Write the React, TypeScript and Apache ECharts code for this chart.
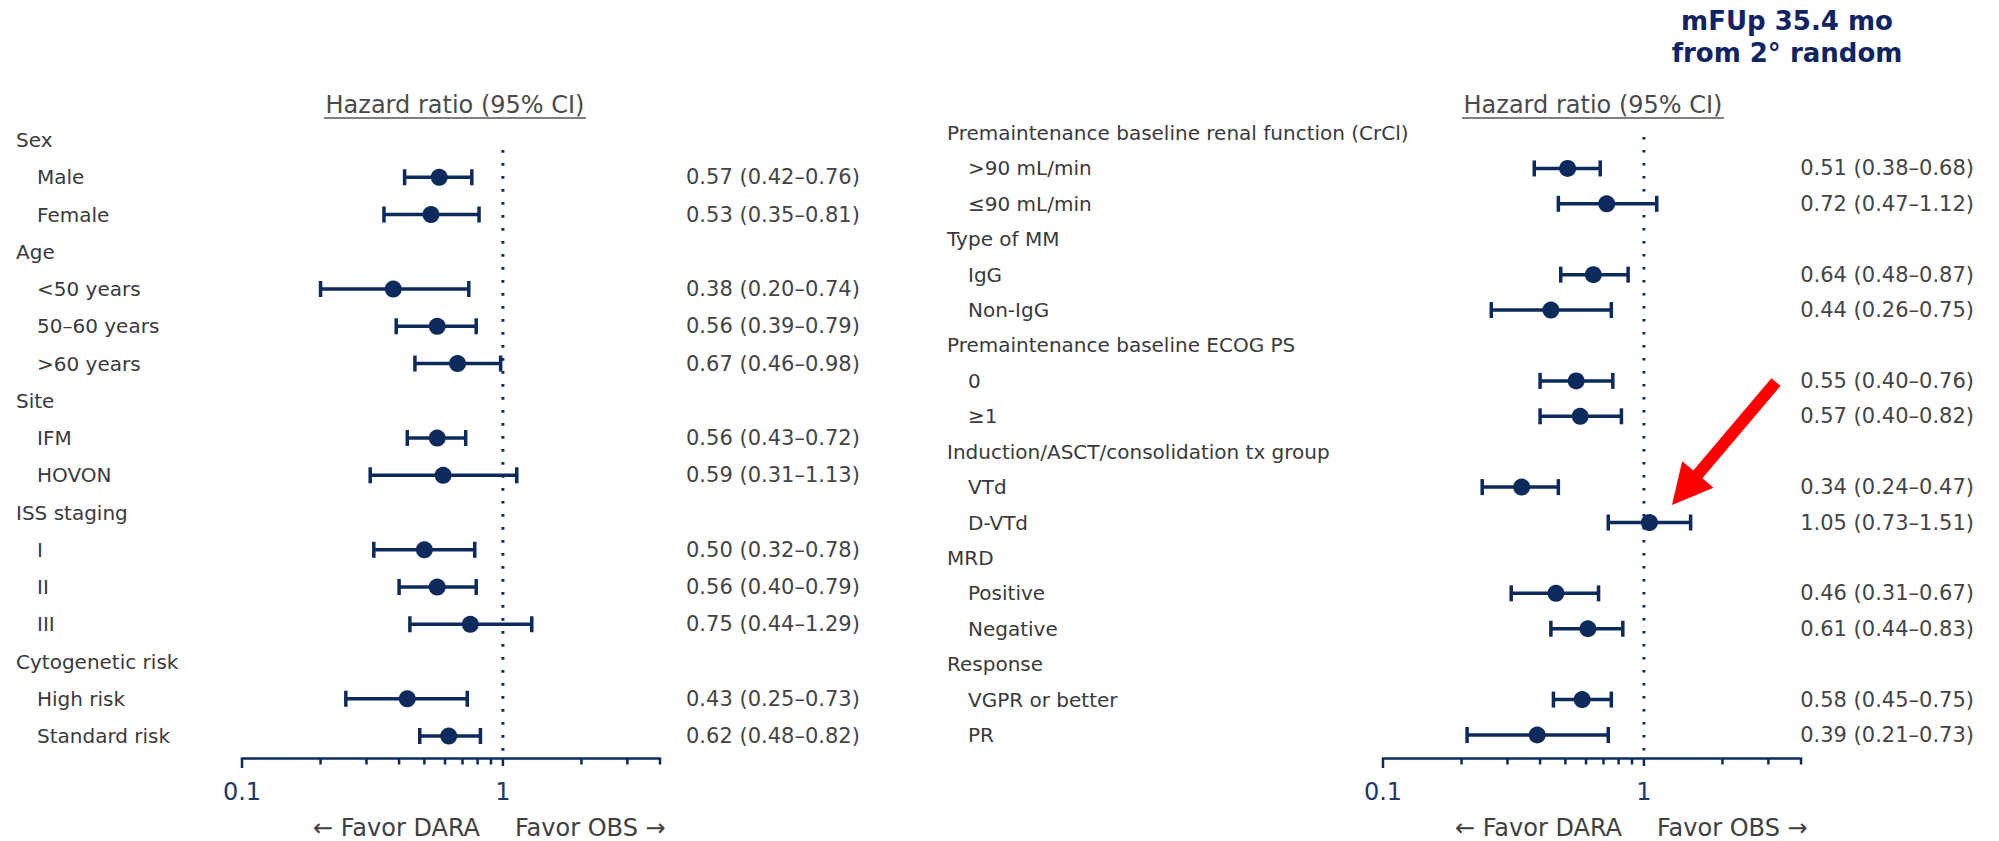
import React, { useEffect, useRef } from 'react';
import * as echarts from 'echarts';

// ---------- DATA ----------
const leftLabels = ['Sex', 'Male', 'Female', 'Age', '<50 years', '50–60 years', '>60 years', 'Site', 'IFM', 'HOVON', 'ISS staging', 'I', 'II', 'III', 'Cytogenetic risk', 'High risk', 'Standard risk'];
const leftHR = [null, 0.57, 0.53, null, 0.38, 0.56, 0.67, null, 0.56, 0.59, null, 0.50, 0.56, 0.75, null, 0.43, 0.62];
const leftLow = [null, 0.42, 0.35, null, 0.20, 0.39, 0.46, null, 0.43, 0.31, null, 0.32, 0.40, 0.44, null, 0.25, 0.48];
const leftHigh = [null, 0.76, 0.81, null, 0.74, 0.79, 0.98, null, 0.72, 1.13, null, 0.78, 0.79, 1.29, null, 0.73, 0.82];

const rightLabels = ['Premaintenance baseline renal function (CrCl)', '>90 mL/min', '≤90 mL/min', 'Type of MM', 'IgG', 'Non-IgG', 'Premaintenance baseline ECOG PS', '0', '≥1', 'Induction/ASCT/consolidation tx group', 'VTd', 'D-VTd', 'MRD', 'Positive', 'Negative', 'Response', 'VGPR or better', 'PR'];
const rightHR = [null, 0.51, 0.72, null, 0.64, 0.44, null, 0.55, 0.57, null, 0.34, 1.05, null, 0.46, 0.61, null, 0.58, 0.39];
const rightLow = [null, 0.38, 0.47, null, 0.48, 0.26, null, 0.40, 0.40, null, 0.24, 0.73, null, 0.31, 0.44, null, 0.45, 0.21];
const rightHigh = [null, 0.68, 1.12, null, 0.87, 0.75, null, 0.76, 0.82, null, 0.47, 1.51, null, 0.67, 0.83, null, 0.75, 0.73];

const tickValues = [0.1, 0.2, 0.3, 0.4, 0.5, 0.6, 0.7, 0.8, 0.9, 1, 2, 3, 4];
const axisLabelValues = [0.1, 1];
const axisMin = 0.1;
const axisMax = 4;
const refLine = 1;

const headerText = 'Hazard ratio (95% CI)';
const favorLeft = '← Favor DARA';
const favorRight = 'Favor OBS →';
const followUp = ['mFUp 35.4 mo', 'from 2° random'];

// ---------- STYLE ----------
const NAVY = '#0d2a5c';
const TEXT = '#3a3a3a';
const FONT = "'DejaVu Sans', Verdana, sans-serif";

function fmt(h: number | null, l: number | null, u: number | null) {
  if (h == null || l == null || u == null) return '';
  return `${h.toFixed(2)} (${l.toFixed(2)}–${u.toFixed(2)})`;
}

function buildPanel(
  gi: number,
  labels: string[],
  hr: (number | null)[],
  lo: (number | null)[],
  hi: (number | null)[],
  layout: { left: number; top: number; width: number; height: number; axisOffset: number; labelMargin: number; valueAlign: string; valueMargin: number; lineTopGap: number }
) {
  const values = labels.map((_, i) => fmt(hr[i], lo[i], hi[i]));
  const grid = { left: layout.left, top: layout.top, width: layout.width, height: layout.height };
  const xAxis = {
    gridIndex: gi,
    type: 'log',
    logBase: 10,
    min: axisMin,
    max: axisMax,
    offset: layout.axisOffset,
    axisLine: { show: true, lineStyle: { color: NAVY, width: 2.5 } },
    axisTick: { show: false },
    splitLine: { show: false },
    minorTick: { show: false },
    axisLabel: {
      show: true,
      margin: 22,
      fontSize: 24,
      fontFamily: FONT,
      color: '#1f3864',
      formatter: (v: number) => {
        const hit = axisLabelValues.find((a) => Math.abs(a - v) < 1e-6);
        return hit == null ? '' : String(hit);
      },
    },
  };
  const yLabels = {
    gridIndex: gi,
    type: 'category',
    data: labels,
    inverse: true,
    position: 'left',
    axisLine: { show: false },
    axisTick: { show: false },
    splitLine: { show: false },
    axisLabel: {
      interval: 0,
      align: 'left',
      margin: layout.labelMargin,
      fontSize: 20,
      fontFamily: FONT,
      color: TEXT,
      formatter: (v: string, i: number) => (hr[i] == null ? `{h|${v}}` : `{s|${v}}`),
      rich: {
        h: { fontSize: 20, fontFamily: FONT, color: TEXT },
        s: { fontSize: 20, fontFamily: FONT, color: TEXT, padding: [0, 0, 0, 21] },
      },
    },
  };
  const yValues = {
    gridIndex: gi,
    type: 'category',
    data: labels,
    inverse: true,
    position: 'right',
    axisLine: { show: false },
    axisTick: { show: false },
    splitLine: { show: false },
    axisLabel: {
      interval: 0,
      align: layout.valueAlign,
      margin: layout.valueMargin,
      fontSize: 21,
      fontFamily: FONT,
      color: '#444444',
      formatter: (_v: string, i: number) => values[i],
    },
  };
  const yIdx = gi * 2;
  const rows: number[] = [];
  hr.forEach((h, i) => { if (h != null) rows.push(i); });

  const series = [
    {
      type: 'custom',
      xAxisIndex: gi,
      yAxisIndex: yIdx,
      silent: true,
      z: 1,
      data: [[refLine, 0]],
      encode: { x: 0, y: 1 },
      renderItem: (params: any, api: any) => {
        const p = api.coord([api.value(0), api.value(1)]);
        const cs = params.coordSys;
        return {
          type: 'line',
          shape: { x1: p[0], y1: p[1] + layout.lineTopGap, x2: p[0], y2: cs.y + cs.height + layout.axisOffset - 3 },
          style: { stroke: NAVY, lineWidth: 3, lineDash: [2.6, 10.4] },
        };
      },
    },
    {
      type: 'custom',
      xAxisIndex: gi,
      yAxisIndex: yIdx,
      silent: true,
      z: 2,
      data: tickValues.map((v) => [v, 0]),
      encode: { x: 0, y: 1 },
      renderItem: (params: any, api: any) => {
        const v = api.value(0);
        const p = api.coord([v, 0]);
        const cs = params.coordSys;
        const y0 = cs.y + cs.height + layout.axisOffset;
        const len = Math.abs(v - 0.1) < 1e-6 ? 10 : Math.abs(v - 1) < 1e-6 ? 8 : 6.5;
        return {
          type: 'line',
          shape: { x1: p[0], y1: y0, x2: p[0], y2: y0 + len },
          style: { stroke: NAVY, lineWidth: 2.5 },
        };
      },
    },
    {
      type: 'custom',
      xAxisIndex: gi,
      yAxisIndex: yIdx,
      silent: true,
      z: 3,
      data: rows.map((i) => [lo[i], hi[i], i]),
      encode: { x: [0, 1], y: 2 },
      renderItem: (_params: any, api: any) => {
        const a = api.coord([api.value(0), api.value(2)]);
        const b = api.coord([api.value(1), api.value(2)]);
        const st = { stroke: NAVY, lineWidth: 3.5 };
        return {
          type: 'group',
          children: [
            { type: 'line', shape: { x1: a[0], y1: a[1], x2: b[0], y2: b[1] }, style: st },
            { type: 'line', shape: { x1: a[0], y1: a[1] - 8, x2: a[0], y2: a[1] + 8 }, style: st },
            { type: 'line', shape: { x1: b[0], y1: b[1] - 8, x2: b[0], y2: b[1] + 8 }, style: st },
          ],
        };
      },
    },
    {
      type: 'scatter',
      xAxisIndex: gi,
      yAxisIndex: yIdx,
      z: 4,
      symbol: 'circle',
      symbolSize: 17,
      itemStyle: { color: NAVY, opacity: 1 },
      data: rows.map((i) => [hr[i], i]),
    },
  ];
  return { grid, xAxis, yAxes: [yLabels, yValues], series };
}

function arrowPoints(tail: number[], tip: number[], shaftHalf: number, headLen: number, headHalf: number) {
  const dx = tip[0] - tail[0];
  const dy = tip[1] - tail[1];
  const len = Math.hypot(dx, dy);
  const ux = dx / len, uy = dy / len;
  const nx = -uy, ny = ux;
  const bx = tip[0] - ux * headLen, by = tip[1] - uy * headLen;
  return [
    [tail[0] + nx * shaftHalf, tail[1] + ny * shaftHalf],
    [bx + nx * shaftHalf, by + ny * shaftHalf],
    [bx + nx * headHalf, by + ny * headHalf],
    [tip[0], tip[1]],
    [bx - nx * headHalf, by - ny * headHalf],
    [bx - nx * shaftHalf, by - ny * shaftHalf],
    [tail[0] - nx * shaftHalf, tail[1] - ny * shaftHalf],
  ];
}

export default function App() {
  const ref = useRef<HTMLDivElement>(null);
  useEffect(() => {
    if (!ref.current) return;
    const chart = echarts.init(ref.current, null, { renderer: 'svg' });
    const L = buildPanel(0, leftLabels, leftHR, leftLow, leftHigh, {
      left: 242, top: 121.4, width: 418, height: 633.25, axisOffset: 3.4,
      labelMargin: 226, valueAlign: 'left', valueMargin: 26, lineTopGap: 10,
    });
    const R = buildPanel(1, rightLabels, rightHR, rightLow, rightHigh, {
      left: 1383, top: 115.3, width: 418, height: 637.4, axisOffset: 5.3,
      labelMargin: 436, valueAlign: 'right', valueMargin: 173, lineTopGap: 4,
    });
    const hdrStyle = { fontSize: 24, fontFamily: FONT, fill: '#4a4a4a', textAlign: 'center', textVerticalAlign: 'middle' };
    const favStyle = { fontSize: 24, fontFamily: FONT, fill: '#404040', textVerticalAlign: 'middle' };
    const option: any = {
      animation: false,
      backgroundColor: '#ffffff',
      grid: [L.grid, R.grid],
      xAxis: [L.xAxis, R.xAxis],
      yAxis: [...L.yAxes, ...R.yAxes],
      series: [...L.series, ...R.series],
      graphic: [
        { type: 'text', x: 455, y: 105, style: { ...hdrStyle, text: headerText } },
        { type: 'line', shape: { x1: 324, y1: 118, x2: 586, y2: 118 }, style: { stroke: '#555', lineWidth: 1.5 } },
        { type: 'text', x: 1593, y: 105, style: { ...hdrStyle, text: headerText } },
        { type: 'line', shape: { x1: 1462, y1: 118, x2: 1724, y2: 118 }, style: { stroke: '#555', lineWidth: 1.5 } },
        { type: 'text', x: 480, y: 828, style: { ...favStyle, text: favorLeft, textAlign: 'right' } },
        { type: 'text', x: 515, y: 828, style: { ...favStyle, text: favorRight, textAlign: 'left' } },
        { type: 'text', x: 1622, y: 828, style: { ...favStyle, text: favorLeft, textAlign: 'right' } },
        { type: 'text', x: 1657, y: 828, style: { ...favStyle, text: favorRight, textAlign: 'left' } },
        { type: 'text', x: 1787, y: 21, style: { text: followUp[0], fontSize: 26, fontWeight: 'bold', fontFamily: FONT, fill: '#0f2462', textAlign: 'center', textVerticalAlign: 'middle' } },
        { type: 'text', x: 1787, y: 53, style: { text: followUp[1], fontSize: 26, fontWeight: 'bold', fontFamily: FONT, fill: '#0f2462', textAlign: 'center', textVerticalAlign: 'middle' } },
        { type: 'polygon', z: 100, shape: { points: arrowPoints([1776, 382], [1672, 505], 6, 40, 20.5) }, style: { fill: '#ff0000' } },
      ],
    };
    chart.setOption(option);
    return () => chart.dispose();
  }, []);
  return <div ref={ref} style={{ position: 'absolute', left: 0, top: 0, width: 1999, height: 841 }} />;
}
